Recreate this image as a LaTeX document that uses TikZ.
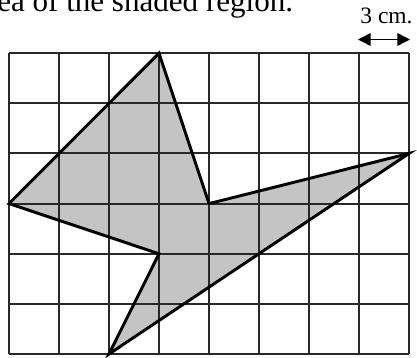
\documentclass[tikz,border=0pt]{standalone}
\usepackage{fontspec}
\setmainfont{Liberation Serif}
\usetikzlibrary{arrows.meta}
\definecolor{shade}{RGB}{196,196,196}
\definecolor{gridc}{RGB}{40,40,40}
\tikzset{
  gridline/.style={draw=gridc, line width=1.5pt},
  outline/.style={draw=black, line width=2.2pt, line join=miter},
  region/.style={fill=shade},
  dimarrow/.style={line width=1.1pt, {Triangle[length=9.5pt,width=9.5pt]}-{Triangle[length=9.5pt,width=9.5pt]}},
}
\begin{document}
\begin{tikzpicture}[x=0.75pt,y=-0.75pt]
\useasboundingbox (0,0) rectangle (417,357);
\clip (0,0) rectangle (417,357);
\node[anchor=base west, inner sep=0pt, font=\fontsize{23.3pt}{27pt}\selectfont] (title) at (-3,12) {ea of the shaded region.};
\node[anchor=base, inner sep=0pt, font=\fontsize{17.6pt}{20pt}\selectfont] (scale) at (386.5,23.5) {3 cm.};
\coordinate (arrL) at (358,39.5);
\coordinate (arrR) at (410,39.5);
\draw[dimarrow] (arrL) -- (arrR);
\begin{scope}[shift={(9,354)}, x=37.5pt, y=37.6pt]
  \coordinate (A) at (3,6);
  \coordinate (B) at (4,3);
  \coordinate (C) at (8,4);
  \coordinate (D) at (2,0);
  \coordinate (E) at (3,2);
  \coordinate (F) at (0,3);
  \fill[region] (A) -- (B) -- (C) -- (D) -- (E) -- (F) -- cycle;
  \foreach \i in {0,...,8} \draw[gridline] (\i,0) -- (\i,6);
  \foreach \j in {0,...,6} \draw[gridline] (0,\j) -- (8,\j);
  \draw[outline] (A) -- (B) -- (C) -- (D) -- (E) -- (F) -- cycle;
\end{scope}
\end{tikzpicture}
\end{document}
